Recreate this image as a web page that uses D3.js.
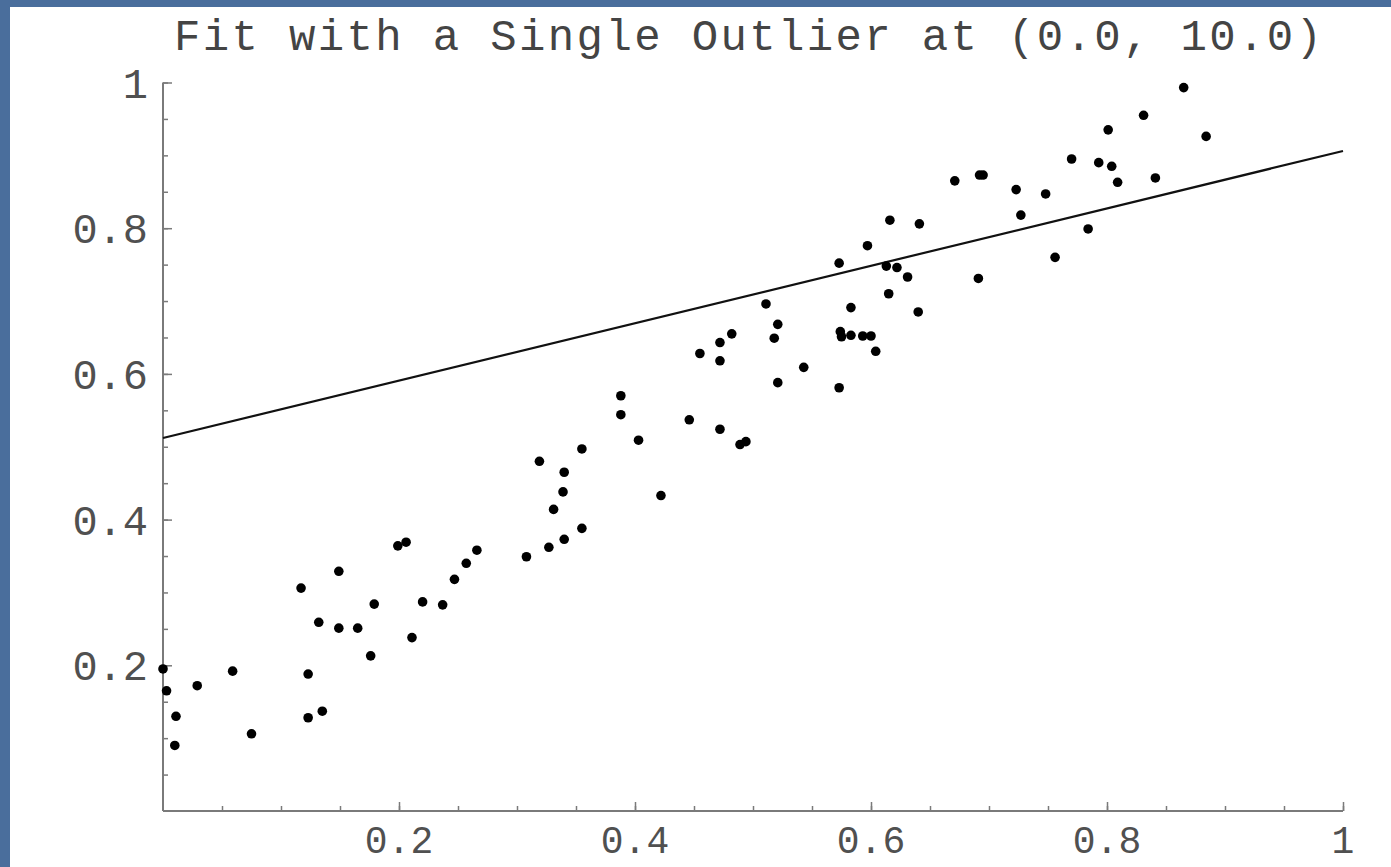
<!DOCTYPE html>
<html>
<head>
<meta charset="utf-8">
<script src="https://cdn.jsdelivr.net/npm/d3@7"></script>
<style>
  html, body { margin: 0; padding: 0; background: #4a6e9c; }
  svg { display: block; }
</style>
</head>
<body>
<script>
// ---- data ----
const title = "Fit with a Single Outlier at (0.0, 10.0)";
const pointsX = [0.000,0.003,0.011,0.010,0.029,0.059,0.075,0.117,0.123,0.123,0.135,0.132,0.149,0.149,0.165,0.176,0.179,0.199,0.206,0.211,0.220,0.237,0.247,0.257,0.266,
  0.308,0.327,0.340,0.355,0.331,0.339,0.340,0.319,0.355,0.388,0.388,0.403,0.422,
  0.446,0.472,0.489,0.494,0.455,0.472,0.472,0.482,0.511,0.521,0.518,0.543,0.521,0.573,0.573,0.574,0.575,0.583,0.593,0.600,0.583,0.604,0.597,0.616,0.641,0.613,0.622,0.631,0.615,0.640,
  0.671,0.692,0.695,0.691,0.723,0.727,0.748,0.756,0.770,0.784,0.793,0.804,0.801,0.809,0.831,0.841,0.865,0.884];
const pointsY = [0.195,0.165,0.130,0.090,0.172,0.192,0.106,0.306,0.188,0.128,0.137,0.259,0.329,0.251,0.251,0.213,0.284,0.364,0.369,0.238,0.287,0.283,0.318,0.340,0.358,
  0.349,0.362,0.373,0.388,0.414,0.438,0.465,0.480,0.497,0.570,0.544,0.509,0.433,
  0.537,0.524,0.503,0.507,0.628,0.643,0.618,0.655,0.696,0.668,0.649,0.609,0.588,0.581,0.752,0.658,0.651,0.653,0.652,0.652,0.691,0.631,0.776,0.811,0.806,0.748,0.746,0.733,0.710,0.685,
  0.865,0.873,0.873,0.731,0.853,0.818,0.847,0.760,0.895,0.799,0.890,0.885,0.935,0.863,0.955,0.869,0.993,0.926];
const fitX = [0, 1];
const fitY = [0.512, 0.906];
const majorTicks = [0.2, 0.4, 0.6, 0.8, 1];
const tickLabels = ["0.2", "0.4", "0.6", "0.8", "1"];
const minorTicks = d3.range(0.05, 1.0001, 0.05);

// ---- layout ----
const W = 1391, H = 867;
const svg = d3.select("body").append("svg").attr("width", W).attr("height", H);

// blue border + white panel
svg.append("rect").attr("x", 0).attr("y", 0).attr("width", W).attr("height", H).attr("fill", "#4a6e9c");
svg.append("rect").attr("x", 10).attr("y", 7).attr("width", W - 10).attr("height", H - 7).attr("fill", "#ffffff");

const x = d3.scaleLinear().domain([0, 1]).range([163, 1343]);
const y = d3.scaleLinear().domain([0, 1]).range([811, 82.5]);

const font = "'Liberation Mono', 'Courier New', monospace";
const axisColor = "#7a7a7a";

// title
svg.append("text")
  .attr("x", 748).attr("y", 50)
  .attr("text-anchor", "middle")
  .attr("font-family", font).attr("font-size", 44)
  .attr("fill", "#444")
  .attr("textLength", 1148).attr("lengthAdjust", "spacing")
  .text(title);

// axes using d3 axis generators
const xAxisMajor = d3.axisTop(x).tickValues(majorTicks).tickSize(9).tickFormat("");
const xAxisMinor = d3.axisTop(x).tickValues(minorTicks).tickSize(5).tickFormat("");
const yAxisMajor = d3.axisRight(y).tickValues(majorTicks).tickSize(9).tickFormat("");
const yAxisMinor = d3.axisRight(y).tickValues(minorTicks).tickSize(5).tickFormat("");

function styleAxis(g) {
  g.select(".domain").remove();
  g.selectAll("line").attr("stroke", axisColor).attr("stroke-width", 1.5);
}
svg.append("g").attr("transform", `translate(0,${y(0)})`).call(xAxisMinor).call(styleAxis);
svg.append("g").attr("transform", `translate(0,${y(0)})`).call(xAxisMajor).call(styleAxis);
svg.append("g").attr("transform", `translate(${x(0)},0)`).call(yAxisMinor).call(styleAxis);
svg.append("g").attr("transform", `translate(${x(0)},0)`).call(yAxisMajor).call(styleAxis);

// axis lines
svg.append("line").attr("x1", x(0)).attr("x2", x(1)).attr("y1", y(0)).attr("y2", y(0))
  .attr("stroke", axisColor).attr("stroke-width", 2);
svg.append("line").attr("x1", x(0)).attr("x2", x(0)).attr("y1", y(0)).attr("y2", y(1))
  .attr("stroke", axisColor).attr("stroke-width", 2);

// tick labels
svg.append("g").selectAll("text").data(majorTicks).join("text")
  .attr("x", d => x(d)).attr("y", 853)
  .attr("text-anchor", "middle")
  .attr("font-family", font).attr("font-size", 38)
  .attr("fill", "#505050")
  .text((d, i) => tickLabels[i]);
svg.append("g").selectAll("text").data(majorTicks).join("text")
  .attr("x", 148).attr("y", d => y(d))
  .attr("dy", "0.36em")
  .attr("text-anchor", "end")
  .attr("font-family", font).attr("font-size", 42)
  .attr("fill", "#505050")
  .text((d, i) => tickLabels[i]);

// fit line
const line = d3.line().x(d => x(d[0])).y(d => y(d[1]));
svg.append("path").datum(fitX.map((v, i) => [v, fitY[i]]))
  .attr("d", line).attr("fill", "none").attr("stroke", "#111").attr("stroke-width", 2.2);

// points
svg.append("g").selectAll("circle").data(pointsX.map((v, i) => [v, pointsY[i]])).join("circle")
  .attr("cx", d => x(d[0])).attr("cy", d => y(d[1])).attr("r", 4.8).attr("fill", "#000");
</script>
</body>
</html>
